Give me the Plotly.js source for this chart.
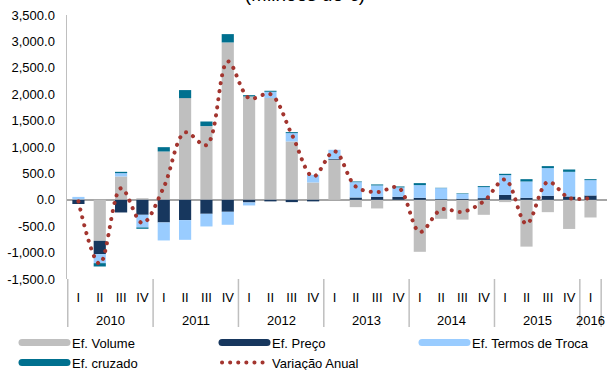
<!DOCTYPE html>
<html>
<head>
<meta charset="utf-8">
<script src="https://cdn.plot.ly/plotly-3.0.1.min.js"></script>
<style>
  html, body { margin: 0; padding: 0; background: #fff; }
  #chart { width: 610px; height: 370px; }
  .js-line { stroke-linecap: round !important; }
</style>
</head>
<body>
<div id="chart"></div>
<script>
const years = ['2010','2010','2010','2010','2011','2011','2011','2011','2012','2012','2012','2012',
               '2013','2013','2013','2013','2014','2014','2014','2014','2015','2015','2015','2015','2016'];
const quarters = ['I','II','III','IV','I','II','III','IV','I','II','III','IV',
                  'I','II','III','IV','I','II','III','IV','I','II','III','IV','I'];

const efVolume  = [10, -777, 442, 30, 915, 1926, 1395, 2980, 1957, 1926, 1105, 328,
                   760, -139, -164, -10, -985, -360, -375, -284, -44, -887, -234, -552, -335];
const efPreco   = [-80, -253, -240, -284, -429, -385, -265, -227, -50, -30, -44, -30,
                   15, 44, 57, 57, 38, 13, 20, 32, 92, 38, 76, 63, 82];
const efTermos  = [45, -170, 63, -240, -341, -373, -240, -246, -57, 120, 158, 145,
                   172, 290, 215, 177, 240, 208, 90, 208, 375, 309, 524, 467, 290];
const efCruzado = [0, -63, 25, -25, 82, 152, 88, 158, 25, 19, 19, 0,
                   0, 13, 19, 19, 38, 6, 10, 19, 25, 44, 38, 44, 19];
const variacaoAnual = [-30, -1210, 220, -440, 240, 1275, 1035, 2620, 1925, 2000, 1240, 440,
                       920, 250, 145, 232, -610, -185, -228, -28, 385, -455, 340, 35, 35];

const yTickVals = [-1500, -1000, -500, 0, 500, 1000, 1500, 2000, 2500, 3000, 3500];
const yTickText = ['-1,500.0', '-1,000.0', '-500.0', '0.0', '500.0', '1,000.0', '1,500.0',
                   '2,000.0', '2,500.0', '3,000.0', '3,500.0'];

const names = ['Ef. Volume', 'Ef. Preço', 'Ef. Termos de Troca', 'Ef. cruzado'];
const colors = ['#bfbfbf', '#17375e', '#99ccff', '#00708f'];
const series = [efVolume, efPreco, efTermos, efCruzado];

// unique category keys per quarter, shown with the quarter label
const xKeys = years.map((y, i) => y + ' ' + quarters[i]);

const FONT = 'Liberation Sans, Arial, sans-serif';
const traces = [];
series.forEach((s, i) => {
  traces.push({
    type: 'bar', x: xKeys, y: s, name: names[i], showlegend: false,
    marker: { color: colors[i], line: { width: 0 } }, hoverinfo: 'skip'
  });
});
series.forEach((s, i) => {
  traces.push({
    type: 'scatter', mode: 'lines', x: [xKeys[0]], y: [null],
    name: names[i], line: { color: colors[i], width: 7 }, hoverinfo: 'skip'
  });
});
traces.push({
  type: 'scatter', mode: 'lines', x: xKeys, y: variacaoAnual, name: 'Variação Anual',
  line: { color: '#a3352f', width: 4, shape: 'spline', smoothing: 1, dash: '0.1px,8px' },
  hoverinfo: 'skip'
});

// year group labels and dividers, derived from the years array
const PLOT_H = 264;
const annotations = [];
const shapes = [];
const groups = [];
years.forEach((y, i) => {
  if (!groups.length || groups[groups.length - 1].year !== y) groups.push({ year: y, first: i, last: i });
  else groups[groups.length - 1].last = i;
});
groups.forEach(g => {
  annotations.push({
    text: g.year, x: (g.first + g.last) / 2, xref: 'x', y: -(320 - 279) / PLOT_H, yref: 'paper',
    yanchor: 'middle', xanchor: 'center', showarrow: false,
    font: { family: FONT, size: 13, color: '#000' }
  });
});
const bounds = [-0.5].concat(groups.map(g => g.last + 0.5));
bounds.forEach(b => {
  shapes.push({
    type: 'line', xref: 'x', yref: 'paper', x0: b, x1: b, y0: 0, y1: -(327 - 279) / PLOT_H,
    line: { color: '#bfbfbf', width: 1.5 }
  });
});

const layout = {
  width: 610, height: 370,
  margin: { l: 67, r: 3, t: 15, b: 91, autoexpand: false },
  paper_bgcolor: '#fff', plot_bgcolor: '#fff',
  barmode: 'relative', bargap: 0.43,
  font: { family: FONT, size: 13, color: '#000' },
  title: {
    text: '(Milhões de €)', font: { family: FONT, size: 19, color: '#000' },
    x: 0.5, xanchor: 'center', xref: 'container', yref: 'container', y: 1 - 0.5 / 370, yanchor: 'bottom'
  },
  xaxis: {
    type: 'category', tickvals: xKeys, ticktext: quarters,
    showgrid: false, showline: false, zeroline: false, ticks: '',
    ticklabelstandoff: 9,
    tickfont: { family: FONT, size: 13, color: '#000' }
  },
  yaxis: {
    range: [-1500, 3500], tickvals: yTickVals, ticktext: yTickText,
    showgrid: false, showline: true, linecolor: '#bfbfbf', linewidth: 1.5,
    zeroline: true, zerolinecolor: '#a6a6a6', zerolinewidth: 2, ticks: '',
    ticklabelstandoff: 8,
    tickfont: { family: FONT, size: 13, color: '#000' }
  },
  annotations: annotations,
  shapes: shapes,
  legend: {
    orientation: 'h', xref: 'paper', yref: 'paper',
    x: (17 - 67) / 540, xanchor: 'left', y: -(327.6 - 279) / PLOT_H, yanchor: 'top',
    itemwidth: 45, entrywidth: 140, entrywidthmode: 'pixels',
    font: { family: FONT, size: 13, color: '#000' }, traceorder: 'normal',
    bgcolor: 'rgba(0,0,0,0)'
  },
  showlegend: true
};

Plotly.newPlot('chart', traces, layout, { staticPlot: true, displayModeBar: false });
</script>
</body>
</html>
